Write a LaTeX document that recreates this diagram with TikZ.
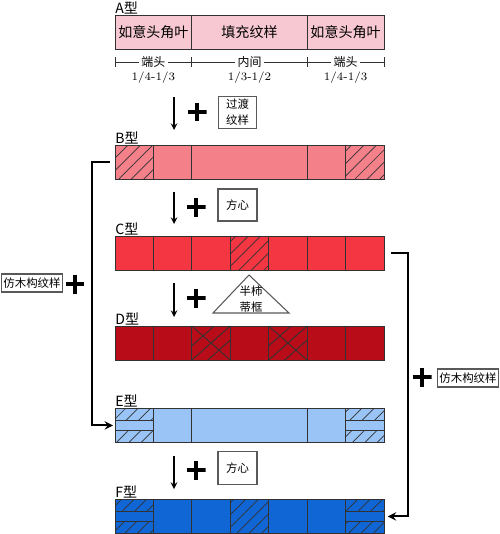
\documentclass[tikz,border=0pt]{standalone}
\usepackage{fontspec}
\newfontfamily\cjk{Noto Sans CJK SC}
\usetikzlibrary{positioning,patterns.meta}

\definecolor{edge}{RGB}{50,50,50}
\definecolor{colA}{RGB}{247,200,210}
\definecolor{colB}{RGB}{244,128,138}
\definecolor{colC}{RGB}{243,54,66}
\definecolor{colD}{RGB}{184,12,24}
\definecolor{colE}{RGB}{153,196,245}
\definecolor{colF}{RGB}{17,102,214}
\newcommand{\cw}{38.43}

\begin{document}
\begin{tikzpicture}[x=0.02cm, y=-0.02cm, >=stealth,
    bar/.style={draw=edge, line width=0.5pt, minimum width=5.38cm, minimum height=0.68cm, anchor=north west, inner sep=0pt},
    cell/.style={draw=edge, line width=0.5pt},
    hatch/.style={pattern={Lines[angle=45, distance=5pt, line width=0.4pt]}, pattern color=edge},
    typelbl/.style={font=\cjk\fontsize{8}{9}\selectfont, inner sep=0pt},
    cbox/.style={draw=gray!70!black, line width=0.6pt, font=\cjk\fontsize{6.5}{9}\selectfont, align=center, inner sep=1pt, fill=white},
    dimlbl/.style={font=\cjk\fontsize{6.8}{7}\selectfont, fill=white, inner sep=1.5pt},
    plus/.style={minimum size=0.38cm, inner sep=0pt, path picture={
        \draw[line width=2.4pt] (path picture bounding box.north) -- (path picture bounding box.south)
        (path picture bounding box.west) -- (path picture bounding box.east);}},
    down/.style={->, line width=0.7pt},
    bracket/.style={->, line width=1.1pt}]
    \useasboundingbox (0,0) rectangle (500,534);

    % A
    \node[bar, fill=colA] (barA) at (115,15) {};
    \node[typelbl, above right=0.5pt and 0pt of barA.north west] (lblA) {A型};
    \draw[cell] (191.86,15) -- ++(0,34) (307.15,15) -- ++(0,34);
    \node[font=\cjk\fontsize{8}{9}\selectfont] (ruyiL) at (153.4,32) {如意头角叶};
    \node[font=\cjk\fontsize{8}{9}\selectfont] (tianchong) at (249.5,32) {填充纹样};
    \node[font=\cjk\fontsize{8}{9}\selectfont] (ruyiR) at (345.6,32) {如意头角叶};
    \draw[line width=0.5pt, edge] (115,62) -- (384,62);
    \foreach \x in {115,191.86,307.15,384}
        \draw[line width=0.5pt, edge] (\x,57) -- (\x,67);
    \node[dimlbl] (duanL) at (153.4,62) {端头};
    \node[dimlbl] (neijian) at (249.5,62) {内间};
    \node[dimlbl] (duanR) at (345.6,62) {端头};
    \node[font=\fontsize{6.5}{7}\selectfont] (fracL) at (153.4,78) {1/4-1/3};
    \node[font=\fontsize{6.5}{7}\selectfont] (fracM) at (249.5,78) {1/3-1/2};
    \node[font=\fontsize{6.5}{7}\selectfont] (fracR) at (345.6,78) {1/4-1/3};

    % A -> B
    \coordinate (d1s) at (174,97);
    \coordinate (d1e) at (174,130);
    \draw[down] (d1s) -- (d1e);
    \node[plus] (p1) at (197,112) {};
    \node[cbox, minimum width=0.76cm, minimum height=0.63cm] (guodu) at (237.5,112.5) {过渡\\纹样};

    % B
    \node[bar, fill=colB] (barB) at (115,145) {};
    \node[typelbl, above right=0.5pt and 0pt of barB.north west] (lblB) {B型};
    \fill[hatch] (115,145) rectangle ++(\cw,34);
    \fill[hatch] (345.58,145) rectangle ++(\cw,34);
    \foreach \i in {1,2,5,6}
        \draw[cell] (115+\i*\cw,145) -- ++(0,34);
    \draw[cell] (barB.north west) rectangle (barB.south east);

    % B -> C
    \coordinate (d2s) at (174,192);
    \coordinate (d2e) at (174,224);
    \draw[down] (d2s) -- (d2e);
    \node[plus] (p2) at (196,207) {};
    \node[cbox, minimum width=0.78cm, minimum height=0.64cm] (fangxin1) at (237.5,205) {方心};

    % C
    \node[bar, fill=colC] (barC) at (115,236) {};
    \node[typelbl, above right=0.5pt and 0pt of barC.north west] (lblC) {C型};
    \fill[hatch] (230.29,236) rectangle ++(\cw,34);
    \foreach \i in {1,...,6}
        \draw[cell] (115+\i*\cw,236) -- ++(0,34);
    \draw[cell] (barC.north west) rectangle (barC.south east);

    % C -> D
    \coordinate (d3s) at (174,283);
    \coordinate (d3e) at (174,317);
    \draw[down] (d3s) -- (d3e);
    \node[plus] (p3) at (196,298) {};
    \draw[draw=gray!70!black, line width=0.6pt, fill=white] (249,275) -- (289,313) -- (213,313) -- cycle;
    \node[font=\cjk\fontsize{6.5}{9}\selectfont, align=center, inner sep=0pt] (shidi) at (251,299) {半柿\\蒂框};

    % D
    \node[bar, fill=colD] (barD) at (115,326) {};
    \node[typelbl, above right=0.5pt and 0pt of barD.north west] (lblD) {D型};
    \foreach \x in {191.86,268.72} {
        \draw[cell] (\x,326) -- ++(\cw,34) (\x,360) -- ++(\cw,-34);
        \begin{scope}
            \clip (\x,326) rectangle ++(\cw,34);
            \foreach \d in {-16,16}
                \draw[cell] (\x+\d,360) -- ++(\cw,-34);
        \end{scope}
    }
    \foreach \i in {1,...,6}
        \draw[cell] (115+\i*\cw,326) -- ++(0,34);
    \draw[cell] (barD.north west) rectangle (barD.south east);

    % E
    \node[bar, fill=colE] (barE) at (115,408) {};
    \node[typelbl, above right=0.5pt and 0pt of barE.north west] (lblE) {E型};
    \foreach \x in {115,345.58} {
        \fill[hatch] (\x,408) rectangle ++(\cw,12);
        \fill[hatch] (\x,430) rectangle ++(\cw,12);
        \draw[cell] (\x,420) -- ++(\cw,0) (\x,430) -- ++(\cw,0);
    }
    \foreach \i in {1,2,5,6}
        \draw[cell] (115+\i*\cw,408) -- ++(0,34);
    \draw[cell] (barE.north west) rectangle (barE.south east);

    % E -> F
    \coordinate (d4s) at (174,456);
    \coordinate (d4e) at (174,489);
    \draw[down] (d4s) -- (d4e);
    \node[plus] (p4) at (196,470) {};
    \node[cbox, minimum width=0.78cm, minimum height=0.66cm] (fangxin2) at (237.5,468) {方心};

    % F
    \node[bar, fill=colF] (barF) at (115,499) {};
    \node[typelbl, above right=0.5pt and 0pt of barF.north west] (lblF) {F型};
    \fill[hatch] (230.29,499) rectangle ++(\cw,34);
    \foreach \x in {115,345.58} {
        \fill[hatch] (\x,499) rectangle ++(\cw,12);
        \fill[hatch] (\x,521) rectangle ++(\cw,12);
        \draw[cell] (\x,511) -- ++(\cw,0) (\x,521) -- ++(\cw,0);
    }
    \foreach \i in {1,...,6}
        \draw[cell] (115+\i*\cw,499) -- ++(0,34);
    \draw[cell] (barF.north west) rectangle (barF.south east);

    % side brackets
    \draw[bracket, shorten <=0.1cm, shorten >=0.04cm] (barB.west) -- ++(-23,0) |- (barE.west);
    \node[plus] (pL) at (75,284) {};
    \node[cbox, minimum height=0.36cm] (fangmuL) at (32,283) {仿木构纹样};
    \draw[bracket, shorten <=0.12cm, shorten >=0.06cm] (barC.east) -- ++(23,0) |- (barF.east);
    \node[plus] (pR) at (422,377) {};
    \node[cbox, minimum height=0.36cm] (fangmuR) at (468,378) {仿木构纹样};
\end{tikzpicture}
\end{document}
